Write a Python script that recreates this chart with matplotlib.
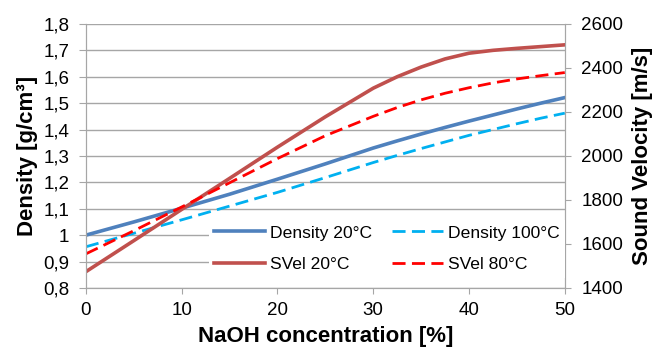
import matplotlib.pyplot as plt
from matplotlib.ticker import FuncFormatter

plt.rcParams['font.family'] = ['Liberation Sans', 'DejaVu Sans']

naoh = [0, 5, 10, 15, 20, 25, 30, 32.5, 35, 37.5, 40, 42.5, 45, 47.5, 50]
density_20 = [1.0, 1.05, 1.102, 1.155, 1.212, 1.27, 1.33, 1.357, 1.383, 1.408, 1.432,
              1.455, 1.478, 1.5, 1.521]
density_100 = [0.956, 1.007, 1.058, 1.11, 1.162, 1.218, 1.275, 1.302, 1.328, 1.353, 1.378,
               1.4, 1.422, 1.443, 1.462]
svel_20 = [1474, 1615, 1757, 1898, 2040, 2178, 2308, 2360, 2404, 2441, 2467,
           2480, 2489, 2497, 2505]
svel_80 = [1555, 1660, 1768, 1878, 1988, 2092, 2180, 2220, 2255, 2285, 2310,
           2332, 2350, 2365, 2379]

grey = '#a6a6a6'

fig, ax = plt.subplots(figsize=(6.56, 3.52), dpi=100)
fig.subplots_adjust(left=0.131, right=0.861, top=0.932, bottom=0.182)
ax2 = ax.twinx()

dash = (0, (4.7, 2.3))
l1, = ax.plot(naoh, density_20, color='#4f81bd', lw=2.6, label='Density 20°C')
l2, = ax.plot(naoh, density_100, color='#00b0f0', lw=2.0, ls=dash,
              label='Density 100°C')
l3, = ax2.plot(naoh, svel_20, color='#c0504d', lw=2.6, label='SVel 20°C')
l4, = ax2.plot(naoh, svel_80, color='#ff0000', lw=2.0, ls=dash,
               label='SVel 80°C')

ax.set_xlim(0, 50)
ax.set_ylim(0.8, 1.8)
ax2.set_ylim(1400, 2600)
ax.set_xticks(range(0, 51, 10))
ax.set_yticks([0.8 + 0.1 * i for i in range(11)])
ax2.set_yticks(range(1400, 2601, 200))

comma = FuncFormatter(lambda v, p: ('%g' % round(v, 2)).replace('.', ','))
ax.yaxis.set_major_formatter(comma)

ax.grid(axis='y', color=grey, lw=1)
ax.set_axisbelow(True)

for a in (ax, ax2):
    a.spines['top'].set_visible(False)
    for s in ('left', 'right', 'bottom'):
        a.spines[s].set_color(grey)
    a.tick_params(colors=grey, labelcolor='black', labelsize=13.5, length=5)
ax.tick_params(axis='y', pad=7)
ax2.tick_params(axis='y', length=4, pad=8)
ax.tick_params(axis='x', length=4, pad=6)

ax.set_xlabel('NaOH concentration [%]', fontsize=16, fontweight='bold', labelpad=5)
ax.set_ylabel('Density [g/cm³]', fontsize=16, fontweight='bold', labelpad=4)
ax2.set_ylabel('Sound Velocity [m/s]', fontsize=16, fontweight='bold', labelpad=6)

leg = ax2.legend(handles=[l1, l3, l2, l4], ncol=2, loc='center',
                 bbox_to_anchor=(0.629, 0.148), frameon=True, fontsize=12.6,
                 handlelength=2.9, columnspacing=1.15, handletextpad=0.3,
                 labelspacing=0.95, borderpad=0.3, fancybox=False)
leg.get_frame().set_edgecolor('none')
leg.get_frame().set_facecolor('white')
leg.get_frame().set_alpha(1)

fig.savefig('out.png', dpi=100)
